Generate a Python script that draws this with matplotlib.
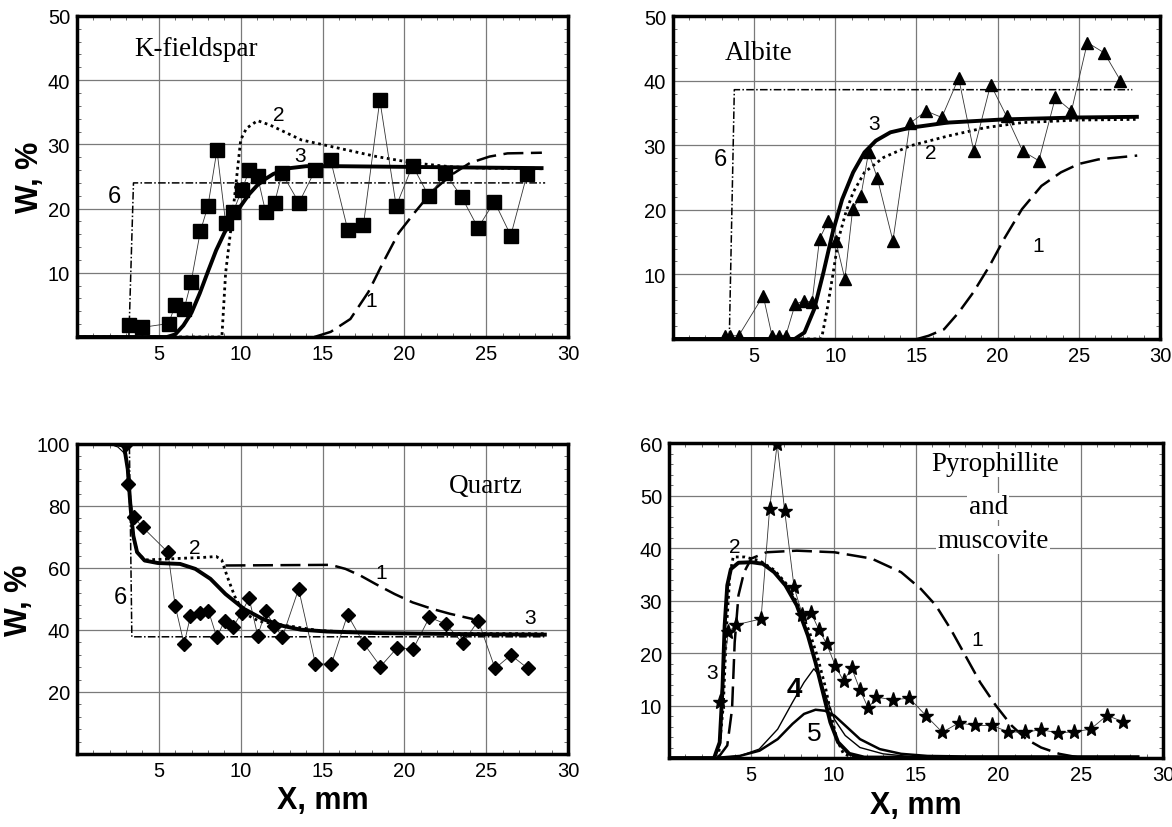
import matplotlib
matplotlib.use('Agg')
import matplotlib.pyplot as plt
from matplotlib.ticker import MultipleLocator

plt.rcParams['font.family'] = ['Liberation Sans', 'DejaVu Sans']

# ---- K-fieldspar (top left) ----
kf_x = [3.2, 4.0, 5.6, 6.0, 6.55, 6.97, 7.54, 8.0, 8.55, 9.08, 9.54, 10.07, 10.53, 11.03, 11.52,
        12.07, 12.53, 13.56, 14.55, 15.5, 16.55, 17.5, 18.5, 19.5, 20.5, 21.5, 22.5, 23.5, 24.5,
        25.5, 26.5, 27.5]
kf_y = [1.8, 1.5, 2.1, 5.0, 4.4, 8.6, 16.5, 20.4, 29.1, 17.8, 19.5, 22.9, 26.0, 25.0, 19.5,
        20.9, 25.5, 20.9, 26.0, 27.5, 16.6, 17.5, 36.9, 20.4, 26.7, 21.9, 25.5, 21.8, 17.0,
        21.1, 15.8, 25.4]
kf_c1_x = [14.5, 15.5, 16.7, 17.8, 18.7, 19.65, 20.6, 21.7, 22.9, 24.0, 25.2, 26.3, 28.4]
kf_c1_y = [0.0, 0.8, 2.8, 7.0, 11.6, 16.2, 19.3, 22.7, 25.3, 27.1, 28.1, 28.6, 28.7]
kf_c2_x = [0, 8.85, 9.08, 9.54, 10.0, 10.35, 11.03, 11.8, 13.7, 16.0, 18.3, 20.6, 22.9, 24.9, 28.5]
kf_c2_y = [0, 0.0, 10.0, 19.8, 30.7, 32.5, 33.7, 33.0, 30.7, 29.4, 28.1, 27.1, 26.5, 26.3, 26.2]
kf_c3_x = [0, 5.5, 6.0, 6.5, 7.0, 7.5, 8.0, 8.5, 9.0, 9.5, 10.0, 10.5, 11.0, 11.5, 12.0, 13.0,
           14.0, 16.0, 20.0, 24.0, 28.5]
kf_c3_y = [0, 0.0, 0.4, 1.8, 3.8, 6.8, 10.2, 13.5, 16.2, 18.5, 20.4, 22.2, 23.6, 24.6, 25.4, 26.3,
           26.6, 26.6, 26.5, 26.4, 26.3]
kf_c6_x = [3.17, 3.45, 28.6]
kf_c6_y = [0.0, 24.0, 24.0]

# ---- Albite (top right) ----
ab_x = [3.2, 3.54, 4.05, 5.56, 6.1, 6.55, 6.95, 7.53, 8.06, 8.57, 9.03, 9.57, 10.03, 10.59, 11.07,
        11.58, 12.05, 12.58, 13.55, 14.6, 15.6, 16.56, 17.6, 18.53, 19.57, 20.55, 21.54, 22.54,
        23.56, 24.55, 25.53, 26.57, 27.57]
ab_y = [0.5, 0.5, 0.5, 6.7, 0.5, 0.5, 0.5, 5.4, 5.9, 5.7, 15.5, 18.3, 15.2, 9.3, 20.1,
        22.2, 28.9, 25.0, 15.2, 33.4, 35.3, 34.3, 40.4, 29.1, 39.4, 34.5, 29.1, 27.6,
        37.4, 35.3, 45.9, 44.3, 40.0]
ab_c1_x = [15.05, 15.75, 16.7, 17.6, 18.5, 19.5, 20.4, 21.5, 22.7, 23.9, 25.0, 26.2, 28.6]
ab_c1_y = [0.0, 0.5, 1.5, 4.1, 7.2, 11.3, 15.5, 20.1, 23.7, 25.8, 27.1, 27.8, 28.4]
ab_c2_x = [0, 9.15, 9.5, 9.84, 10.2, 10.65, 11.1, 11.8, 12.97, 14.6, 16.9, 19.2, 21.5, 25.0, 28.5]
ab_c2_y = [0, 0.0, 4.6, 9.8, 15.5, 19.6, 22.7, 25.8, 28.1, 29.9, 31.4, 32.7, 33.5, 33.9, 34.0]
ab_c3_x = [0, 7.5, 8.1, 8.7, 9.27, 9.84, 10.42, 11.1, 11.8, 12.5, 13.4, 14.6, 16.9, 20.4, 25.0, 28.7]
ab_c3_y = [0, 0.0, 1.0, 4.6, 10.3, 16.5, 21.6, 25.8, 28.9, 30.7, 32.0, 32.7, 33.5, 34.0, 34.3, 34.4]
ab_c6_x = [3.47, 3.78, 28.3]
ab_c6_y = [0.0, 38.6, 38.6]

# ---- Quartz (bottom left) ----
qz_x = [2.98, 3.1, 3.49, 4.02, 5.55, 6.0, 6.54, 6.93, 7.5, 8.03, 8.54, 9.02, 9.52, 10.05, 10.51,
        11.04, 11.52, 12.05, 12.55, 13.54, 14.57, 15.54, 16.53, 17.51, 18.54, 19.55, 20.54,
        21.53, 22.54, 23.57, 24.51, 25.54, 26.51, 27.54]
qz_y = [100.0, 87.1, 76.3, 73.1, 65.1, 47.8, 35.5, 44.4, 45.4, 46.2, 37.6, 43.0, 40.9, 45.5, 50.3,
        38.2, 46.0, 41.4, 37.8, 53.2, 29.0, 29.0, 44.9, 35.7, 28.2, 34.2, 33.9,
        44.1, 41.9, 35.7, 43.0, 27.6, 31.9, 27.6]
qz_c1_x = [9.07, 15.5, 16.4, 17.33, 18.25, 19.4, 20.5, 21.7, 22.8, 24.2]
qz_c1_y = [60.8, 61.0, 59.7, 57.5, 54.8, 51.6, 48.9, 46.8, 45.2, 43.5]
qz_c2_x = [3.1, 3.28, 3.44, 3.67, 4.13, 5.16, 6.3, 7.7, 8.5, 8.84, 9.18, 9.64, 10.2, 11.13, 11.8,
           13.2, 14.8, 18.25, 28.7]
qz_c2_y = [91.9, 79.0, 70.4, 65.1, 62.6, 62.8, 63.1, 63.4, 63.7, 62.6, 57.2, 50.8, 45.4, 42.8, 42.2,
           41.1, 39.8, 38.9, 38.8]
qz_c3_x = [0, 2.2, 2.87, 3.1, 3.28, 3.44, 3.67, 4.13, 4.93, 6.3, 7.23, 8.15, 9.07, 10.2, 11.36,
           12.5, 13.66, 15.26, 18.25, 22.84, 28.7]
qz_c3_y = [100, 100, 99.5, 91.9, 79.0, 70.4, 65.1, 62.4, 61.6, 61.3, 59.7, 56.5, 51.6, 46.8, 43.5,
           41.4, 40.1, 39.5, 39.0, 38.7, 38.5]
qz_c4_x = [0, 2.0, 2.5, 2.8, 3.0]
qz_c4_y = [100, 100, 99.0, 97.5, 96.0]
qz_c6_x = [0, 3.2, 3.35, 28.6]
qz_c6_y = [100, 100, 37.8, 37.8]

# ---- Pyrophillite and muscovite (bottom right) ----
pm_x = [3.08, 3.6, 4.1, 5.59, 6.11, 6.57, 7.03, 7.6, 8.1, 8.62, 9.13, 9.58, 10.1, 10.6, 11.1,
        11.6, 12.1, 12.6, 13.6, 14.6, 15.6, 16.6, 17.6, 18.6, 19.6, 20.6, 21.6, 22.6, 23.6,
        24.6, 25.6, 26.6, 27.6]
pm_y = [10.7, 24.0, 25.4, 26.5, 47.4, 59.9, 47.0, 32.5, 27.3, 27.7, 24.3, 21.7, 17.6, 14.7, 17.1,
        13.0, 9.5, 11.6, 11.1, 11.4, 8.1, 4.9, 6.7, 6.2, 6.2, 5.0, 4.9, 5.4, 4.8,
        5.0, 5.5, 8.1, 6.9]
pm_c1_x = [2.97, 3.54, 3.83, 3.99, 4.22, 4.56, 5.0, 5.93, 7.76, 10.04, 12.3, 14.1, 15.3, 16.2, 17.1,
           18.0, 18.9, 19.85, 20.8, 21.7, 22.6, 23.7, 24.9, 28.5]
pm_c1_y = [0.0, 2.4, 9.3, 22.0, 31.0, 35.4, 38.0, 39.2, 39.5, 39.2, 38.0, 35.4, 32.2, 29.1, 24.6,
           19.5, 14.4, 10.0, 6.2, 3.6, 2.0, 0.8, 0.1, 0.0]
pm_c2_x = [3.0, 3.3, 3.5, 3.7, 3.9, 4.6, 5.5, 6.4, 7.1, 7.8, 8.5, 9.0, 9.5, 9.9, 10.2, 10.6, 11.2, 28.5]
pm_c2_y = [0.0, 10.0, 25.0, 35.0, 38.3, 38.3, 37.6, 35.8, 33.3, 29.5, 24.3, 19.5, 13.5, 7.5, 3.5,
           0.8, 0.1, 0.0]
pm_c3_x = [0, 2.74, 3.08, 3.24, 3.38, 3.54, 3.76, 4.22, 5.02, 5.7, 6.39, 7.07, 7.76, 8.44, 8.9,
           9.35, 9.8, 10.27, 10.95, 11.86, 28.5]
pm_c3_y = [0, 0.0, 3.0, 12.5, 25.2, 32.9, 36.0, 37.2, 37.3, 37.0, 35.4, 32.9, 29.1, 23.3, 18.2,
           12.5, 6.8, 3.0, 0.8, 0.1, 0.0]
pm_c4_x = [2.74, 4.3, 5.48, 6.6, 7.5, 8.2, 8.8, 9.13, 9.58, 10.04, 10.7, 11.6, 13.0, 14.6, 18.0]
pm_c4_y = [0.0, 0.4, 1.7, 5.5, 10.6, 14.4, 17.0, 15.7, 11.3, 7.4, 4.3, 2.0, 0.8, 0.3, 0.0]
pm_c5_x = [2.74, 4.3, 5.5, 6.6, 7.5, 8.2, 8.9, 9.47, 10.04, 10.7, 11.6, 12.8, 14.1, 15.7, 18.0, 28.5]
pm_c5_y = [0.0, 0.4, 1.4, 3.6, 6.5, 8.4, 9.2, 9.0, 8.1, 6.2, 3.6, 1.7, 0.8, 0.4, 0.3, 0.3]

fig = plt.figure(figsize=(11.72, 8.28), dpi=100)
ax1 = fig.add_axes([0.0657, 0.5918, 0.419, 0.3877])
ax2 = fig.add_axes([0.5742, 0.5894, 0.4155, 0.390])
ax3 = fig.add_axes([0.0657, 0.0882, 0.419, 0.3744])
ax4 = fig.add_axes([0.5708, 0.0833, 0.4215, 0.3804])

num = dict(fontsize=15, color='black')
serif = ['Liberation Serif', 'DejaVu Serif']


def style(ax, ymax, ystep):
    ax.set_xlim(0, 30)
    ax.set_ylim(0, ymax)
    ax.xaxis.set_major_locator(MultipleLocator(5))
    ax.yaxis.set_major_locator(MultipleLocator(ystep))
    ax.xaxis.set_minor_locator(MultipleLocator(1))
    ax.yaxis.set_minor_locator(MultipleLocator(ystep / 5))
    ax.grid(True, which='major', color='#7a7a7a', lw=0.9)
    ax.tick_params(which='both', direction='in', top=True, right=True)
    ax.tick_params(which='major', length=0, labelsize=14.5, pad=5)
    ax.tick_params(which='minor', length=3, width=0.6, color='#555')
    for s in ax.spines.values():
        s.set_linewidth(2.5)
    xt = list(range(5, 31, 5))
    ax.set_xticks(xt)
    ax.set_xticklabels([str(t) for t in xt])
    yt = [ystep * k for k in range(1, int(ymax / ystep) + 1)]
    ax.set_yticks(yt)
    ax.set_yticklabels([str(int(t)) for t in yt])


def curves(ax, c1, c2, c3, c6, data, marker, ms):
    ax.plot(data[0], data[1], color='#333', lw=0.6, marker=marker, ms=ms, mfc='black',
            mec='black', zorder=4)
    if c6 is not None:
        ax.plot(c6[0], c6[1], color='black', lw=1.1, dashes=(5, 1.5, 1, 1.5), zorder=3)
    if c1 is not None:
        ax.plot(c1[0], c1[1], color='black', lw=1.8, dashes=(8, 3), zorder=3)
    if c2 is not None:
        ax.plot(c2[0], c2[1], color='black', lw=2.0, dashes=(1, 1.3), zorder=3)
    ax.plot(c3[0], c3[1], color='black', lw=2.8, zorder=5, solid_capstyle='butt')


# K-fieldspar
style(ax1, 50, 10)
curves(ax1, (kf_c1_x, kf_c1_y), (kf_c2_x, kf_c2_y), (kf_c3_x, kf_c3_y), (kf_c6_x, kf_c6_y),
       (kf_x, kf_y), 's', 10)
ax1.text(3.5, 45, 'K-fieldspar', family=serif, fontsize=19.5, va='center')
ax1.text(12.3, 34.6, '2', **num, ha='center', va='center')
ax1.text(13.6, 28.3, '3', **num, ha='center', va='center')
ax1.text(2.3, 21.9, '6', fontsize=17, ha='center', va='center')
ax1.text(18.0, 5.7, '1', **num, ha='center', va='center')
ax1.set_ylabel('W, %', fontsize=22, fontweight='bold', labelpad=2)

# Albite
style(ax2, 50, 10)
curves(ax2, (ab_c1_x, ab_c1_y), (ab_c2_x, ab_c2_y), (ab_c3_x, ab_c3_y), (ab_c6_x, ab_c6_y),
       (ab_x, ab_y), '^', 8.5)
ax2.text(3.2, 44.3, 'Albite', family=serif, fontsize=19.5, va='center')
ax2.text(12.4, 33.3, '3', **num, ha='center', va='center')
ax2.text(15.9, 28.9, '2', **num, ha='center', va='center')
ax2.text(2.9, 27.8, '6', fontsize=17, ha='center', va='center')
ax2.text(22.5, 14.4, '1', **num, ha='center', va='center')

# Quartz
style(ax3, 100, 20)
ax3.plot(qz_c4_x, qz_c4_y, color='black', lw=0.8, zorder=3)
curves(ax3, (qz_c1_x, qz_c1_y), (qz_c2_x, qz_c2_y), (qz_c3_x, qz_c3_y), (qz_c6_x, qz_c6_y),
       (qz_x, qz_y), 'D', 7.5)
ax3.text(22.7, 86.6, 'Quartz', family=serif, fontsize=19.5, va='center')
ax3.text(7.2, 66.7, '2', **num, ha='center', va='center')
ax3.text(18.6, 58.6, '1', **num, ha='center', va='center')
ax3.text(27.7, 44.1, '3', **num, ha='center', va='center')
ax3.text(2.65, 50.6, '6', fontsize=17, ha='center', va='center')
ax3.set_ylabel('W, %', fontsize=22, fontweight='bold', labelpad=2)
ax3.set_xlabel('X, mm', fontsize=22, fontweight='bold', labelpad=4)

# Pyrophillite and muscovite
style(ax4, 60, 10)
ax4.plot(pm_c4_x, pm_c4_y, color='black', lw=1.0, zorder=3)
ax4.plot(pm_c5_x, pm_c5_y, color='black', lw=1.8, zorder=3)
curves(ax4, (pm_c1_x, pm_c1_y), (pm_c2_x, pm_c2_y), (pm_c3_x, pm_c3_y), None,
       (pm_x, pm_y), '*', 11)
ax4.text(19.8, 56.2, 'Pyrophillite', family=serif, fontsize=19.5, ha='center', va='center',
         bbox=dict(fc='white', ec='none', pad=1))
ax4.text(19.4, 47.9, 'and', family=serif, fontsize=19.5, ha='center', va='center',
         bbox=dict(fc='white', ec='none', pad=1))
ax4.text(19.7, 41.5, 'muscovite', family=serif, fontsize=19.5, ha='center', va='center',
         bbox=dict(fc='white', ec='none', pad=1))
ax4.text(4.0, 40.3, '2', fontsize=15, ha='center', va='center')
ax4.text(18.7, 22.5, '1', **num, ha='center', va='center')
ax4.text(2.6, 16.3, '3', **num, ha='center', va='center')
ax4.text(7.6, 13.2, '4', fontsize=20, fontweight='bold', ha='center', va='center')
ax4.text(8.8, 4.7, '5', fontsize=19, ha='center', va='center')
ax4.set_xlabel('X, mm', fontsize=22, fontweight='bold', labelpad=4)

fig.savefig('out.png', dpi=100)
